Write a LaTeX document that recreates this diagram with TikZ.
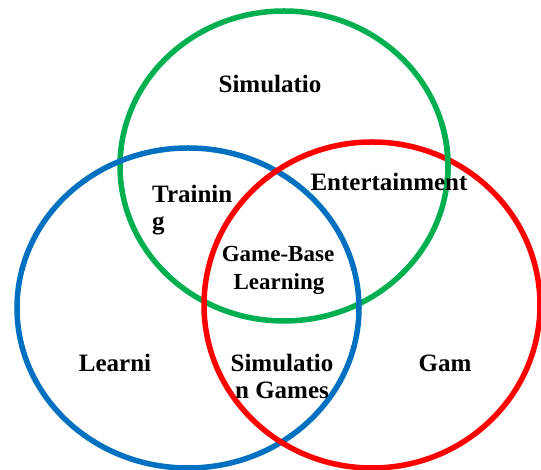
\documentclass[tikz,border=0pt]{standalone}
\usepackage{fontspec}
\setmainfont{Liberation Serif}
\definecolor{vgreen}{HTML}{00B050}
\definecolor{vblue}{HTML}{0070C0}
\definecolor{vred}{HTML}{FF0000}
\tikzset{
  ring/.style={line width=5.5pt},
  lbl/.style={font=\bfseries\fontsize{25}{28}\selectfont, inner sep=0pt, anchor=base},
  lblsmall/.style={font=\bfseries\fontsize{23}{28}\selectfont, inner sep=0pt, anchor=base},
}
\begin{document}
\begin{tikzpicture}[x=1pt,y=1pt]
\useasboundingbox (0,0) rectangle (541,470);
\fill[white] (0,0) rectangle (541,470);
% ellipses
\draw[ring, vgreen] (284,304) ellipse [x radius=164, y radius=155];
\draw[ring, vblue] (188,162) ellipse [x radius=171, y radius=160];
\draw[ring, vred] (372,165) ellipse [x radius=168, y radius=163];
% green over red at upper right crossing
\draw[ring, vgreen] ({284+164*cos(-8)},{304+155*sin(-8)}) arc[start angle=-8, end angle=16, x radius=164, y radius=155];
% labels
\node[lbl] (sim) at (270,377) {Simulatio};
\node[lbl, anchor=base west] (tra) at (152,267) {Trainin};
\node[lbl, anchor=base west] (trb) at (152,240) {g};
\node[lbl] (ent) at (389,279) {Entertainment};
\node[lblsmall] (gba) at (278,208) {Game-Base};
\node[lblsmall] (gbb) at (279,180) {Learning};
\node[lbl] (lea) at (115,98) {Learni};
\node[lbl] (sga) at (282,98) {Simulatio};
\node[lbl] (sgb) at (282,71) {n Games};
\node[lbl] (gam) at (445,98) {Gam};
\end{tikzpicture}
\end{document}
